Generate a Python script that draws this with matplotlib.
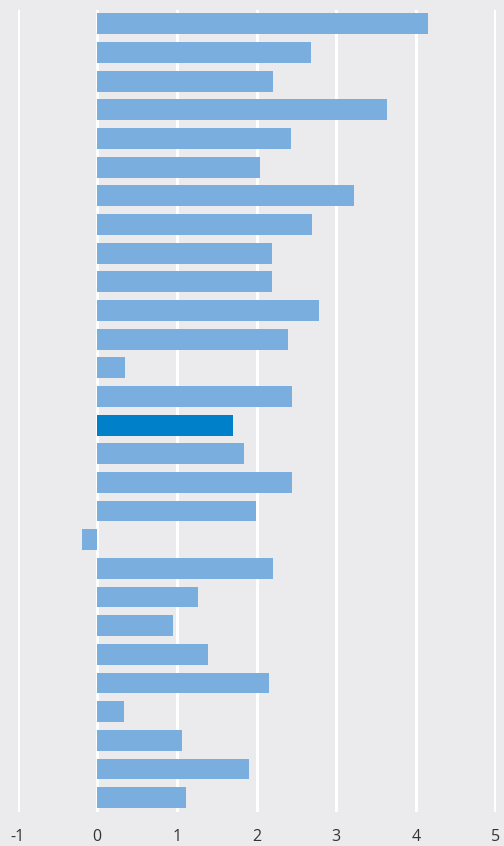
import matplotlib.pyplot as plt
import numpy as np

# bar values, top to bottom (no category labels shown in the chart)
values = [4.15, 2.69, 2.21, 3.64, 2.43, 2.05, 3.23, 2.70, 2.19, 2.20,
          2.79, 2.40, 0.35, 2.44, 1.71, 1.84, 2.45, 1.99, -0.19, 2.21,
          1.27, 0.95, 1.39, 2.16, 0.34, 1.07, 1.91, 1.12]
highlight_index = 14
x_ticks = [-1, 0, 1, 2, 3, 4, 5]
x_tick_labels = ['-1', '0', '1', '2', '3', '4', '5']

BG = '#ebebee'
LIGHT = '#7aaedf'
DARK = '#0080c8'

plt.rcParams['font.family'] = ['Open Sans', 'DejaVu Sans']

fig = plt.figure(figsize=(5.04, 8.46), dpi=100, facecolor=BG)
ax = fig.add_axes([17.5 / 504, 1 - 812 / 846, 478 / 504, 802 / 846])
ax.set_facecolor(BG)

positions = np.arange(len(values))
colors = [DARK if i == highlight_index else LIGHT for i in range(len(values))]
ax.barh(positions, values, height=0.73, color=colors, zorder=3)

ax.set_xlim(-1, 5)
ax.set_ylim(len(values) - 0.5, -0.48)
ax.set_xticks(x_ticks)
ax.set_xticklabels(x_tick_labels, fontsize=11.5, color='#333333')
ax.set_yticks([])
ax.tick_params(axis='x', length=0, pad=12)
ax.grid(True, axis='x', color='white', linewidth=2.2, zorder=1)
for spine in ax.spines.values():
    spine.set_visible(False)

fig.savefig('out.png', dpi=100, facecolor=BG)
